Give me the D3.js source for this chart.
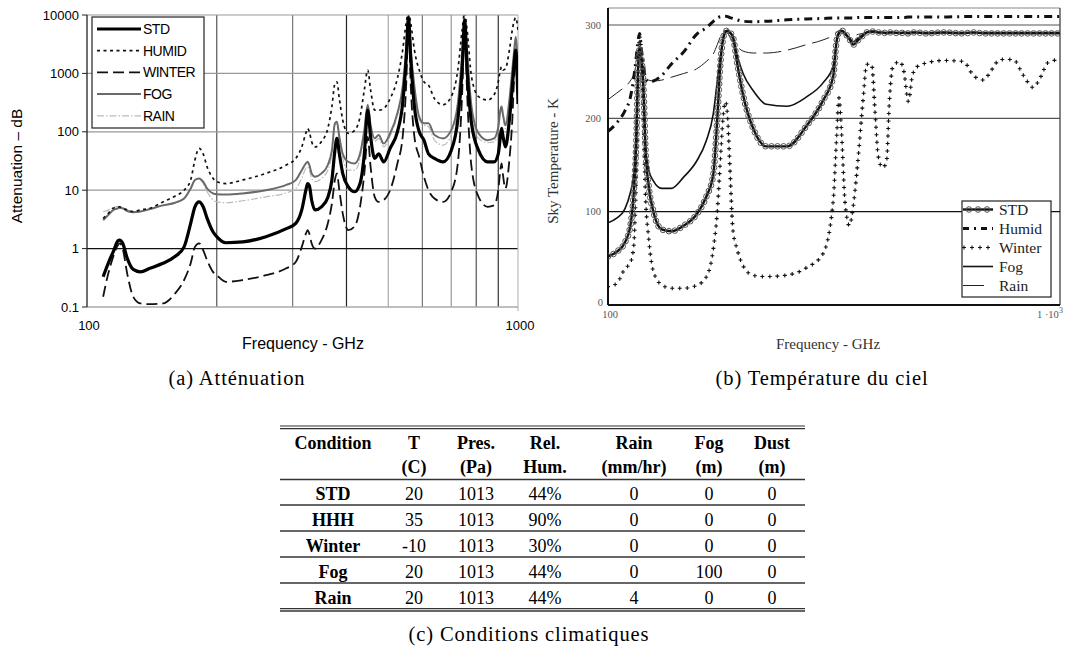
<!DOCTYPE html>
<html>
<head>
<meta charset="utf-8">
<script src="https://cdnjs.cloudflare.com/ajax/libs/d3/7.8.5/d3.min.js"></script>
<style>
body { margin: 0; background: #fff; }
</style>
</head>
<body>
<script>
// (a) attenuation, dB
var attFreq = [109,112,115,118,119,121,124,128,133,140,150,160,168,174,178,182,186,190,196,200,
  210,230,260,290,305,315,322,325,328,332,338,350,362,370,376,380,385,392,404,418,
  430,440,448,455,465,475,488,505,525,540,550,557,564,575,590,605,620,640,670,700,
  725,742,752,762,780,810,850,880,900,910,916,922,935,955,970,980,988,1000];
var attStd = [0.33,0.56,0.88,1.36,1.40,1.23,0.68,0.44,0.40,0.46,0.56,0.73,1.07,2.7,5.2,6.3,5.2,3.3,1.94,1.6,
  1.26,1.3,1.6,2.2,2.7,4.6,10,13,12,6.8,4.6,5.2,7.5,15,48,77,42,19.4,11.4,9.4,
  13,42,235,82,35,42,30.6,52,100,307,1700,9300,1700,270,100,72,42,35,30.6,48,
  160,1150,8200,1150,140,48,30.6,30.6,42,82,115,88,55,160,590,1500,2500,300];
var attHumid = [3.3,4.0,4.9,5.2,5.2,4.9,4.6,4.3,4.6,4.9,6.3,7.9,10,15,33,52,42,25,16,14,
  13,15,19.4,27,35,55,95,114,100,68,55,68,114,270,670,720,370,160,94,106,
  180,520,1140,520,235,235,250,370,820,2500,7200,11000,7200,2500,1140,720,630,370,290,400,
  1140,5500,11000,5500,880,400,350,430,720,1140,1290,1140,1200,2500,5500,8000,9000,5500];
var attWinter = [0.15,0.37,0.72,1.15,1.23,1.0,0.37,0.15,0.115,0.112,0.115,0.17,0.29,0.56,1.07,1.23,0.94,0.63,0.40,0.35,
  0.27,0.29,0.35,0.46,0.59,1.07,1.8,2.07,1.8,1.23,1.0,1.4,2.7,5.9,15,19.4,10,4.0,2.07,2.4,
  5.2,19.4,82,25,7.7,6.3,6.8,10,28.7,82,590,7200,590,82,37,17,10,7.2,6.3,9.4,
  28.7,450,7200,450,25,7.7,5.2,5.5,10,22,28.7,19.4,10.7,33,160,880,1700,450];
var attFog = [3.07,3.75,4.56,4.9,5.0,4.9,4.4,4.2,4.3,4.75,5.5,6.1,7.2,10.7,14.9,15.9,14,10.7,8.8,8.5,
  8.4,8.8,10,12.3,14.9,22,28.7,30.6,27,19.4,17,19.4,27,48,140,148,82,42,30.6,28.7,
  42,107,290,130,77,88,63,94,207,590,2500,9300,2500,590,180,140,140,88,77,107,
  300,2200,8800,2200,270,94,72,77,120,235,270,207,130,350,1140,2500,4200,880];
var attRain = [4.27,4.56,5.0,5.3,5.2,4.9,4.6,4.3,4.3,4.75,5.5,6.1,7.2,10.7,14.9,15.5,13,9.4,6.8,6.3,
  6.1,6.6,7.7,9.0,10.7,16,23.6,25,22,16,14,16,22,42,130,140,72,35,22,22,
  35,94,270,114,68,77,55,85,193,550,2350,9100,2350,550,160,130,122,72,59,88,
  270,2000,8500,2000,235,77,65,67,107,207,240,185,114,330,1060,2350,3900,800];
var attTicks = [0.1, 1, 10, 100, 1000, 10000];
var attGrid = [200,300,400,500,600,700,800,900];
var attNames = ["STD","HUMID","WINTER","FOG","RAIN"];

// (b) sky temperature, K
var skyFreq = [100,104.5,109,112,114,115.5,116.5,117,117.5,118,118.7,120,121,123,126,131.5,138,147,157,165,
  171,174.5,177.5,180,182,184,186,189,193,199,210,224,249,275,299,315,320.5,324.5,329,334.5,
  342,349,358,367,373.5,383,390,396,405,413.5,419,426.5,442.5,451.5,462,471,482,503,552,611,
  643,677,706,737,788,830,873,903,942,1000];
var skyStd = [52,57,67,84,120,175,251,268,274,268,262,225,170,128,100,81,79,85,97,116,
  140,200,262,287,293,294,292,287,260,225,188,170,170,192,219,245,283,292,294,291,
  285,279,284,289,292,293,293,292,292,291,292,292,291,292,291,292,292,291,292,291,
  292,291,291,291,291,291,291,291,291,291];
var skyHumid = [186,195,208,222,243,266,283,288,291,285,270,255,243,239,240,246,258,271,290,297,
  304,307.5,309,309.5,309.5,309,308,307,305.5,304,303.5,304,305.5,306.5,307,307.5,307.5,307.5,307.5,307.5,
  307.5,307.5,308,308,308,308,308,308,308,308,308,308,308,308,308.5,308.5,308.5,308.5,308.5,309,
  309,309,309,309,309,309,309,309,309,309];
var skyWinter = [19.7,23,39,45,63,140,230,275,288,282,265,195,120,72,36,21.5,18,18,21,30,
  60,100,160,205,218,200,150,80,60,42,31.5,30.5,32,40,55,112,180,222,180,110,
  85,107,160,222,258,258,205,160,147,155,215,255,261,250,218,245,255,259,262,261,
  246,241,252,263,263,246,233,243,260,263];
var skyFog = [88,93,103,120,140,190,245,265,272,266,255,215,172,145,133,125,125,137,154,176,
  205,240,268,286,292,294,292,287,268,248,229,215,213,223,238,256,282,291,294,291,
  286,282,286,290,292,293,293,292,292,292,292,292,292,292,292,292,292,292,292,292,
  292,292,292,292,292,292,292,292,292,292];
var skyRain = [220,227,234,240,247,258,268,274,278,274,263,252,245,241,240,241,244,248,253,261,
  269,279,288,293,294,292,287,282,277,272,270,270,273,279,284,289,292,294,292,289,
  287,288,290,291,292,292,292,292,292,292,292,292,292,292,292,292,292,292,292,292,
  292,292,292,292,292,292,292,292,292,292];
var skyTicks = [0, 100, 200, 300];
var skyNames = ["STD","Humid","Winter","Fog","Rain"];

// (c) table
var tableHead1 = ["Condition","T","Pres.","Rel.","Rain","Fog","Dust"];
var tableHead2 = ["","(C)","(Pa)","Hum.","(mm/hr)","(m)","(m)"];
var conditions = ["STD","HHH","Winter","Fog","Rain"];
var tempC = ["20","35","-10","20","20"];
var pressure = ["1013","1013","1013","1013","1013"];
var relHum = ["44%","90%","30%","44%","44%"];
var rainRate = ["0","0","0","0","4"];
var fogDist = ["0","0","0","100","0"];
var dustDist = ["0","0","0","0","0"];

var svg = d3.select("body").append("svg")
    .attr("width", 1070)
    .attr("height", 651)
    .style("display", "block");

var sans = "Liberation Sans, Arial, sans-serif";
var serif = "Liberation Serif, Times New Roman, serif";

// ---------- chart (a) ----------
var xA = d3.scaleLog().domain([100, 1000]).range([87, 518]);
var yA = d3.scaleLog().domain([0.1, 10000]).range([307, 15]);

var gA = svg.append("g");
var gridColA = ["#555","#777","#222","#aaa","#777","#999","#555","#333"];

gA.selectAll(".vg").data(attGrid).enter().append("line")
    .attr("x1", function (d) { return xA(d); })
    .attr("x2", function (d) { return xA(d); })
    .attr("y1", yA(10000)).attr("y2", yA(0.1))
    .style("stroke", function (d, i) { return gridColA[i]; })
    .style("stroke-width", 1.2);

gA.selectAll(".hg").data(attTicks.slice(1)).enter().append("line")
    .attr("x1", xA(100)).attr("x2", xA(1000))
    .attr("y1", function (d) { return yA(d); })
    .attr("y2", function (d) { return yA(d); })
    .style("stroke", function (d) { return d == 1 ? "#111" : "#999"; })
    .style("stroke-width", 1.2);

gA.append("line").attr("x1", xA(1000)).attr("x2", xA(1000))
    .attr("y1", yA(10000)).attr("y2", yA(0.1) + 4)
    .style("stroke", "#bbb").style("stroke-width", 1.2);
gA.append("line").attr("x1", xA(100)).attr("x2", xA(1000))
    .attr("y1", yA(0.1)).attr("y2", yA(0.1))
    .style("stroke", "#aaa").style("stroke-width", 1.5);
gA.append("line").attr("x1", xA(100)).attr("x2", xA(100))
    .attr("y1", yA(10000)).attr("y2", yA(0.1))
    .style("stroke", "#222").style("stroke-width", 1.3);

gA.selectAll(".yt").data(attTicks).enter().append("line")
    .attr("x1", xA(100) - 5).attr("x2", xA(100))
    .attr("y1", function (d) { return yA(d); })
    .attr("y2", function (d) { return yA(d); })
    .style("stroke", "#222");

gA.selectAll(".yl").data(attTicks).enter().append("text")
    .attr("x", xA(100) - 8)
    .attr("y", function (d) { return yA(d); })
    .attr("dy", "0.35em")
    .attr("text-anchor", "end")
    .style("font-family", sans).style("font-size", "13px")
    .text(function (d) { return d; });

gA.selectAll(".xl").data([100, 1000]).enter().append("text")
    .attr("x", function (d) { return xA(d) + 2; })
    .attr("y", 330)
    .attr("text-anchor", "middle")
    .style("font-family", sans).style("font-size", "13px")
    .text(function (d) { return d; });

gA.append("text")
    .attr("x", 303).attr("y", 349)
    .attr("text-anchor", "middle")
    .style("font-family", sans).style("font-size", "16px")
    .text("Frequency - GHz");

gA.append("text")
    .attr("transform", "translate(22,166) rotate(-90)")
    .attr("text-anchor", "middle")
    .style("font-family", sans).style("font-size", "15.5px")
    .text("Attenuation \u2013 dB");

svg.append("clipPath").attr("id", "clipA").append("rect")
    .attr("x", 87).attr("y", 15).attr("width", 431).attr("height", 292);

var lineA = d3.line()
    .x(function (d) { return xA(d[0]); })
    .y(function (d) { return yA(d[1]); })
    .curve(d3.curveMonotoneX);

var styleA = [
  { v: attRain, c: "#bbb", w: 1.2, dash: "7,2,1.5,2" },
  { v: attFog, c: "#6a6a6a", w: 2, dash: null },
  { v: attWinter, c: "#111", w: 1.8, dash: "11,5" },
  { v: attHumid, c: "#111", w: 1.7, dash: "3,3.5" },
  { v: attStd, c: "#000", w: 3.2, dash: null }
];

gA.append("g").attr("clip-path", "url(#clipA)")
    .selectAll("path").data(styleA).enter().append("path")
    .attr("d", function (s) { return lineA(attFreq.map(function (f, i) { return [f, s.v[i]]; })); })
    .style("fill", "none")
    .style("stroke", function (s) { return s.c; })
    .style("stroke-width", function (s) { return s.w; })
    .style("stroke-dasharray", function (s) { return s.dash; })
    .style("stroke-linejoin", "round");

// legend (a)
var legA = gA.append("g");
legA.append("rect").attr("x", 92).attr("y", 17).attr("width", 112).attr("height", 111)
    .style("fill", "#fff").style("stroke", "#222").style("stroke-width", 1.2);
var legStyleA = [styleA[4], styleA[3], styleA[2], styleA[1], styleA[0]];
legA.selectAll(".ll").data(attNames).enter().append("line")
    .attr("x1", 97).attr("x2", 141)
    .attr("y1", function (d, i) { return 29 + i * 21.7; })
    .attr("y2", function (d, i) { return 29 + i * 21.7; })
    .style("stroke", function (d, i) { return legStyleA[i].c; })
    .style("stroke-width", function (d, i) { return legStyleA[i].w; })
    .style("stroke-dasharray", function (d, i) { return legStyleA[i].dash; });
legA.selectAll(".lt").data(attNames).enter().append("text")
    .attr("x", 143)
    .attr("y", function (d, i) { return 29 + i * 21.7; })
    .attr("dy", "0.36em")
    .style("font-family", sans).style("font-size", "14px")
    .style("letter-spacing", "-0.5px")
    .text(function (d) { return d; });

// ---------- chart (b) ----------
var xB = d3.scaleLog().domain([100, 1000]).range([608, 1060]);
var yB = d3.scaleLinear().domain([0, 300]).range([305, 25]);

var gB = svg.append("g");
gB.append("line").attr("x1", 608).attr("x2", 1060).attr("y1", 8).attr("y2", 8)
    .style("stroke", "#888").style("stroke-width", 1);
gB.append("line").attr("x1", 1060).attr("x2", 1060).attr("y1", 8).attr("y2", yB(0))
    .style("stroke", "#333").style("stroke-width", 1.2);
gB.selectAll(".hg").data(skyTicks.slice(1)).enter().append("line")
    .attr("x1", 608).attr("x2", 1060)
    .attr("y1", function (d) { return yB(d); })
    .attr("y2", function (d) { return yB(d); })
    .style("stroke", function (d) { return d == 100 ? "#111" : "#555"; })
    .style("stroke-width", 1.2);
gB.append("line").attr("x1", 608).attr("x2", 1060).attr("y1", yB(0)).attr("y2", yB(0))
    .style("stroke", "#111").style("stroke-width", 2);
gB.append("line").attr("x1", 608).attr("x2", 608).attr("y1", 8).attr("y2", yB(0))
    .style("stroke", "#111").style("stroke-width", 2);

gB.selectAll(".yl").data(skyTicks).enter().append("text")
    .attr("x", function (d) { return d == 0 ? 603 : 601; })
    .attr("y", function (d) { return yB(d); })
    .attr("dy", function (d) { return d == 0 ? "0.1em" : "0.35em"; })
    .attr("text-anchor", "end")
    .style("font-family", serif).style("font-size", "10.5px")
    .style("fill", "#555")
    .text(function (d) { return d; });

gB.append("text").attr("x", 610).attr("y", 318).attr("text-anchor", "middle")
    .style("font-family", serif).style("font-size", "10.5px").style("fill", "#555")
    .text(xB.domain()[0]);
var topLab = gB.append("text").attr("x", 1037).attr("y", 318)
    .style("font-family", serif).style("font-size", "10.5px").style("fill", "#555");
topLab.append("tspan").text("1 \u00b710");
topLab.append("tspan").attr("dy", -5).style("font-size", "8px").text("3");

gB.append("text")
    .attr("x", 828).attr("y", 349)
    .attr("text-anchor", "middle")
    .style("font-family", serif).style("font-size", "15px")
    .style("fill", "#333")
    .text("Frequency - GHz");
gB.append("text")
    .attr("transform", "translate(558,161) rotate(-90)")
    .attr("text-anchor", "middle")
    .style("font-family", serif).style("font-size", "15px")
    .style("fill", "#333")
    .text("Sky Temperature - K");

svg.append("clipPath").attr("id", "clipB").append("rect")
    .attr("x", 608).attr("y", 8).attr("width", 452).attr("height", 297);

var lineB = d3.line()
    .x(function (d) { return xB(d[0]); })
    .y(function (d) { return yB(d[1]); })
    .curve(d3.curveMonotoneX);

function pts(v) { return skyFreq.map(function (f, i) { return [f, v[i]]; }); }

var plotB = gB.append("g").attr("clip-path", "url(#clipB)");

plotB.append("path").attr("d", lineB(pts(skyRain)))
    .style("fill", "none").style("stroke", "#222").style("stroke-width", 1)
    .style("stroke-dasharray", "18,7");
plotB.append("path").attr("d", lineB(pts(skyFog)))
    .style("fill", "none").style("stroke", "#111").style("stroke-width", 1.6);
plotB.append("path").attr("d", lineB(pts(skyHumid)))
    .style("fill", "none").style("stroke", "#111").style("stroke-width", 3)
    .style("stroke-dasharray", "8,5,2,5");

var winterPath = plotB.append("path").attr("d", lineB(pts(skyWinter)))
    .style("fill", "none").style("stroke", "none");
var stdPath = plotB.append("path").attr("d", lineB(pts(skyStd)))
    .style("fill", "none").style("stroke", "#111").style("stroke-width", 2.4);

// markers spaced along the drawn paths
function along(path, step) {
    var node = path.node(), len = node.getTotalLength(), out = [];
    for (var s = 0; s <= len; s += step) out.push(node.getPointAtLength(s));
    return out;
}

plotB.selectAll(".wp").data(along(winterPath, 7.5)).enter().append("path")
    .attr("d", function (p) { return "M" + (p.x - 2) + "," + p.y + "H" + (p.x + 2) + "M" + p.x + "," + (p.y - 2) + "V" + (p.y + 2); })
    .style("stroke", "#111").style("stroke-width", 1.1);

plotB.selectAll(".sc").data(along(stdPath, 6)).enter().append("circle")
    .attr("cx", function (p) { return p.x; })
    .attr("cy", function (p) { return p.y; })
    .attr("r", 2.8)
    .style("fill", "none").style("stroke", "#555").style("stroke-width", 1);

// legend (b)
var legB = gB.append("g");
legB.append("rect").attr("x", 962).attr("y", 201).attr("width", 89).attr("height", 96)
    .style("fill", "#fff").style("stroke", "#222").style("stroke-width", 1.2);
var rowB = function (i) { return 209.5 + i * 19; };
legB.selectAll(".lt").data(skyNames).enter().append("text")
    .attr("x", 999)
    .attr("y", function (d, i) { return rowB(i); })
    .attr("dy", "0.35em")
    .style("font-family", serif).style("font-size", "15.5px")
    .style("fill", "#222")
    .text(function (d) { return d; });
legB.append("line").attr("x1", 963).attr("x2", 993).attr("y1", rowB(0)).attr("y2", rowB(0))
    .style("stroke", "#111").style("stroke-width", 2.4);
legB.selectAll(".lc").data([969, 978, 987]).enter().append("circle")
    .attr("cx", function (d) { return d; }).attr("cy", rowB(0)).attr("r", 2.8)
    .style("fill", "none").style("stroke", "#555");
legB.append("line").attr("x1", 963).attr("x2", 993).attr("y1", rowB(1)).attr("y2", rowB(1))
    .style("stroke", "#111").style("stroke-width", 3).style("stroke-dasharray", "6,5,2,5");
legB.selectAll(".lw").data([964, 972, 980, 988]).enter().append("path")
    .attr("d", function (d) { return "M" + (d - 2) + "," + rowB(2) + "H" + (d + 2) + "M" + d + "," + (rowB(2) - 2) + "V" + (rowB(2) + 2); })
    .style("stroke", "#111").style("stroke-width", 1.1);
legB.append("line").attr("x1", 963).attr("x2", 993).attr("y1", rowB(3)).attr("y2", rowB(3))
    .style("stroke", "#111").style("stroke-width", 1.6);
legB.append("line").attr("x1", 963).attr("x2", 984).attr("y1", rowB(4)).attr("y2", rowB(4))
    .style("stroke", "#222").style("stroke-width", 1);

// ---------- captions ----------
var caps = [[237, 385, "(a) Att\u00e9nuation"], [822, 385, "(b) Temp\u00e9rature du ciel"], [529, 641, "(c) Conditions climatiques"]];
svg.selectAll(".cap").data(caps).enter().append("text")
    .attr("x", function (d) { return d[0]; })
    .attr("y", function (d) { return d[1]; })
    .attr("text-anchor", "middle")
    .style("font-family", serif).style("font-size", "20.5px")
    .style("letter-spacing", "0.9px")
    .text(function (d) { return d[2]; });

// ---------- table (c) ----------
var colX = [333, 414, 476, 545, 634, 709, 772];
var tb = svg.append("g").style("font-family", serif).style("font-size", "18px");
var rows = conditions.map(function (c, i) {
    return [c, tempC[i], pressure[i], relHum[i], rainRate[i], fogDist[i], dustDist[i]];
});

tb.selectAll(".h1").data(tableHead1).enter().append("text")
    .attr("x", function (d, i) { return colX[i]; }).attr("y", 449)
    .attr("text-anchor", "middle").style("font-weight", "bold")
    .text(function (d) { return d; });
tb.selectAll(".h2").data(tableHead2).enter().append("text")
    .attr("x", function (d, i) { return colX[i]; }).attr("y", 473)
    .attr("text-anchor", "middle").style("font-weight", "bold")
    .text(function (d) { return d; });

tb.selectAll(".row").data(rows).enter().append("g")
    .attr("transform", function (d, i) { return "translate(0," + (499.5 + i * 26) + ")"; })
    .selectAll("text").data(function (d) { return d; }).enter().append("text")
    .attr("x", function (d, i) { return colX[i]; })
    .attr("text-anchor", "middle")
    .style("font-weight", function (d, i) { return i == 0 ? "bold" : "normal"; })
    .text(function (d) { return d; });

var rules = [[426, 1.2], [428.6, 1.2], [479.5, 1.6], [505, 1.6], [531, 1.4], [557, 1.6], [583, 1.4], [608.6, 1.4], [611, 1.6]];
tb.selectAll(".rule").data(rules).enter().append("line")
    .attr("x1", 280).attr("x2", 805)
    .attr("y1", function (d) { return d[0]; })
    .attr("y2", function (d) { return d[0]; })
    .style("stroke", "#333")
    .style("stroke-width", function (d) { return d[1]; });
</script>
</body>
</html>
